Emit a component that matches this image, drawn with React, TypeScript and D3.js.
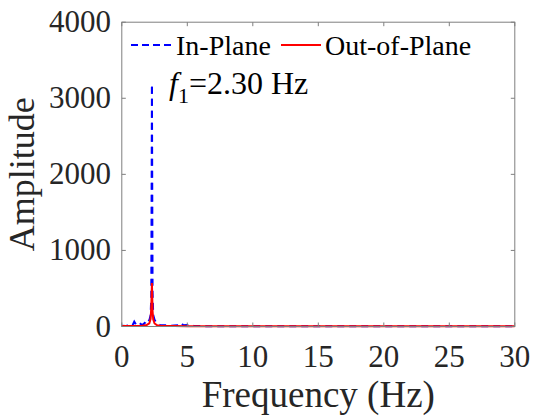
import React from "react";
import * as d3 from "d3";

const xTicks = [0, 5, 10, 15, 20, 25, 30];
const yTicks = [0, 1000, 2000, 3000, 4000];

const inPlaneFreq = [0, 0.3, 0.6, 0.8, 0.95, 1.1, 1.25, 1.35, 1.5, 1.65, 1.8, 1.95, 2.1, 2.2, 2.25, 2.3, 2.35, 2.4, 2.5, 2.6, 2.75, 2.9, 3.1, 3.4, 3.7, 4.0, 4.3, 4.55, 4.7, 5.0, 5.5, 6, 8, 10, 15, 20, 25, 30];
const inPlaneAmp = [10, 8, 15, 10, 65, 20, 35, 45, 25, 30, 55, 100, 80, 150, 400, 3150, 450, 150, 90, 60, 40, 20, 15, 18, 10, 12, 15, 45, 15, 20, 8, 5, 4, 3, 3, 2, 2, 2];

const outPlaneFreq = [0, 0.5, 1, 1.5, 1.9, 2.1, 2.2, 2.25, 2.3, 2.35, 2.4, 2.5, 2.7, 3, 4, 5, 10, 20, 30];
const outPlaneAmp = [5, 5, 8, 8, 20, 40, 100, 250, 570, 200, 90, 40, 15, 8, 5, 4, 3, 2, 2];

const W = 533, H = 418;
const L = 121.8, R = 514.8, T = 22.2, B = 326.5;
const font = "'Liberation Serif', 'Times New Roman', serif";
const txt = "#262626";
const axc = "#7f7f7f";

export default function App() {
  const x = d3.scaleLinear().domain([0, 30]).range([L, R]);
  const y = d3.scaleLinear().domain([0, 4000]).range([B, T]);
  const line = d3.line<[number, number]>().x(d => x(d[0])).y(d => y(d[1]));
  const bluePts = inPlaneFreq.map((f, i) => [f, inPlaneAmp[i]] as [number, number]);
  const pk = d3.maxIndex(inPlaneAmp);
  const blueLeft = line(bluePts.slice(0, pk + 1).reverse()) || "";
  const blueRight = line(bluePts.slice(pk)) || "";
  const red = line(outPlaneFreq.map((f, i) => [f, outPlaneAmp[i]] as [number, number])) || "";
  const tl = 4;
  const dash = "7,5";
  return (
    <svg width={W} height={H} style={{ position: "absolute", left: 0, top: 0, background: "#fff" }}>
      <rect x={0} y={0} width={W} height={H} fill="#fff" />
      <defs>
        <clipPath id="clip"><rect x={L} y={T} width={R - L} height={B - T + 2} /></clipPath>
      </defs>
      <g clipPath="url(#clip)">
        <path d={blueLeft} fill="none" stroke="#0000ff" strokeWidth={2} strokeDasharray={dash} />
        <path d={blueRight} fill="none" stroke="#0000ff" strokeWidth={2} strokeDasharray={dash} />
        <path d={red} fill="none" stroke="#ff0000" strokeWidth={2} />
      </g>
      <rect x={L} y={T} width={R - L} height={B - T} fill="none" stroke={axc} strokeWidth={1} />
      {xTicks.map(t => (
        <g key={"x" + t}>
          <line x1={x(t)} x2={x(t)} y1={B} y2={B - tl} stroke={axc} />
          <line x1={x(t)} x2={x(t)} y1={T} y2={T + tl} stroke={axc} />
          <text x={x(t)} y={367} textAnchor="middle" fontFamily={font} fontSize={31} fill={txt}>{t}</text>
        </g>
      ))}
      {yTicks.map(t => (
        <g key={"y" + t}>
          <line x1={L} x2={L + tl} y1={y(t)} y2={y(t)} stroke={axc} />
          <line x1={R} x2={R - tl} y1={y(t)} y2={y(t)} stroke={axc} />
          <text x={111} y={y(t) + 10} textAnchor="end" fontFamily={font} fontSize={31} fill={txt}>{t}</text>
        </g>
      ))}
      <text x={(L + R) / 2} y={407} textAnchor="middle" fontFamily={font} fontSize={37} fill={txt}>Frequency (Hz)</text>
      <text transform={`translate(34,${(T + B) / 2}) rotate(-90)`} textAnchor="middle" fontFamily={font} fontSize={36} fill={txt}>Amplitude</text>
      <line x1={131} x2={172} y1={45} y2={45} stroke="#0000ff" strokeWidth={2} strokeDasharray="7,4" />
      <text x={176} y={55} fontFamily={font} fontSize={28} fill="#000">In-Plane</text>
      <line x1={281} x2={321} y1={45} y2={45} stroke="#ff0000" strokeWidth={2} />
      <text x={325} y={55} fontFamily={font} fontSize={28} fill="#000">Out-of-Plane</text>
      <text x={169} y={94} fontFamily={font} fontSize={32} fill="#000">
        <tspan fontStyle="italic">f</tspan>
        <tspan fontSize={22} dy={9}>1</tspan>
        <tspan dy={-9}>=2.30 Hz</tspan>
      </text>
    </svg>
  );
}
